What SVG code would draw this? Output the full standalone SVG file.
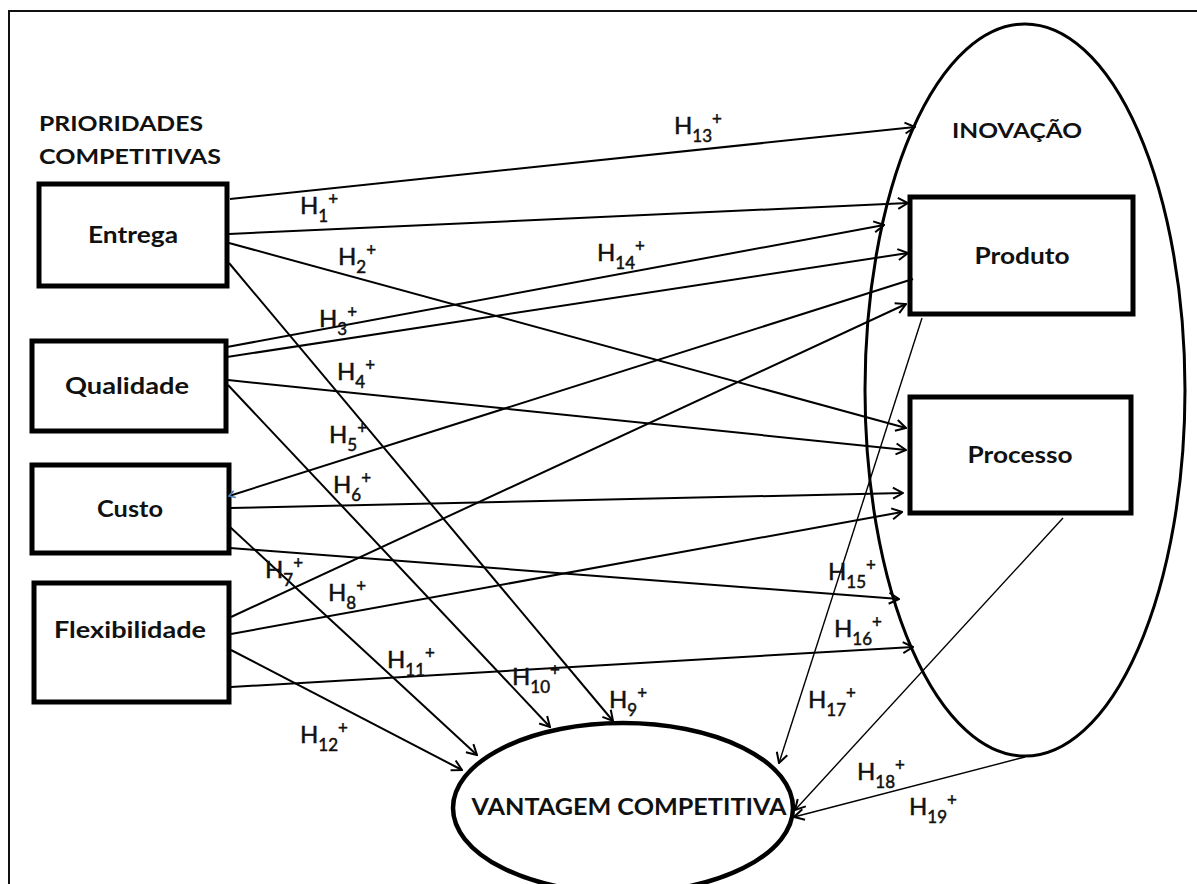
<svg xmlns="http://www.w3.org/2000/svg" width="1197" height="884" viewBox="0 0 1197 884">
  <style>
    .box { fill: #fff; stroke: #000; stroke-width: 5; }
    .oval { fill: none; stroke: #000; }
    .lbl { font-family: Lato, "Liberation Sans", sans-serif; font-weight: bold; fill: #111; }
    .edge { stroke: #000; stroke-width: 2; fill: none; marker-end: url(#arrow); }
    .thin { stroke-width: 1.4; }
    .h { font-family: Lato, "Liberation Sans", sans-serif; font-size: 24px; fill: #111; stroke: #111; stroke-width: 0.5; }
    .s { font-size: 17px; }
  </style>
  <defs>
    <marker id="arrow" markerUnits="userSpaceOnUse" viewBox="0 -7 12 14" refX="11" refY="0" markerWidth="12" markerHeight="14" orient="auto">
      <path d="M1,-5.5 L11,0 L1,5.5" fill="none" stroke="#000" stroke-width="2"/>
    </marker>
    <marker id="arrowBlue" markerUnits="userSpaceOnUse" viewBox="0 -5 8 10" refX="7" refY="0" markerWidth="8" markerHeight="10" orient="auto">
      <path d="M1,-3.5 L7,0 L1,3.5" fill="none" stroke="#4a7ebb" stroke-width="1.6"/>
    </marker>
  </defs>

  <rect width="1197" height="884" fill="#fff"/>

  <!-- outer frame, continues past the right and bottom edges -->
  <rect id="frame" x="9" y="11" width="1200" height="900" fill="none" stroke="#111" stroke-width="2"/>

  <!-- innovation container -->
  <g id="inovacao">
    <ellipse class="oval" cx="1025" cy="390" rx="160" ry="366" stroke-width="3"/>
    <text class="lbl" x="1017" y="138" font-size="20" text-anchor="middle" textLength="130" lengthAdjust="spacingAndGlyphs">INOVAÇÃO</text>
  </g>

  <g id="titulo">
    <text class="lbl" x="39" y="131" font-size="21" textLength="164" lengthAdjust="spacingAndGlyphs">PRIORIDADES</text>
    <text class="lbl" x="39" y="164" font-size="21" textLength="182" lengthAdjust="spacingAndGlyphs">COMPETITIVAS</text>
  </g>

  <g id="entrega">
    <rect class="box" x="39" y="184" width="188" height="102"/>
    <text class="lbl" x="133" y="243" font-size="22" text-anchor="middle" textLength="90" lengthAdjust="spacingAndGlyphs">Entrega</text>
  </g>
  <g id="qualidade">
    <rect class="box" x="32" y="341" width="194" height="90"/>
    <text class="lbl" x="127" y="394" font-size="22" text-anchor="middle" textLength="124" lengthAdjust="spacingAndGlyphs">Qualidade</text>
  </g>
  <g id="custo">
    <rect class="box" x="32" y="465" width="197" height="88"/>
    <text class="lbl" x="130" y="517" font-size="22" text-anchor="middle" textLength="66" lengthAdjust="spacingAndGlyphs">Custo</text>
  </g>
  <g id="flexibilidade">
    <rect class="box" x="34" y="583" width="195" height="119"/>
    <text class="lbl" x="130" y="638" font-size="22" text-anchor="middle" textLength="152" lengthAdjust="spacingAndGlyphs">Flexibilidade</text>
  </g>
  <g id="produto">
    <rect class="box" x="910" y="197" width="223" height="117"/>
    <text class="lbl" x="1022" y="264" font-size="22" text-anchor="middle" textLength="95" lengthAdjust="spacingAndGlyphs">Produto</text>
  </g>
  <g id="processo">
    <rect class="box" x="910" y="397" width="221" height="116"/>
    <text class="lbl" x="1020" y="463" font-size="22" text-anchor="middle" textLength="105" lengthAdjust="spacingAndGlyphs">Processo</text>
  </g>
  <g id="vantagem">
    <ellipse class="oval" cx="623" cy="808" rx="170" ry="85" stroke-width="4.5" fill="#fff"/>
    <text class="lbl" x="629" y="815" font-size="22" text-anchor="middle" textLength="315" lengthAdjust="spacingAndGlyphs">VANTAGEM COMPETITIVA</text>
  </g>

  <g id="connectors">
    <line class="edge" x1="230" y1="199" x2="915" y2="127"/>
    <line class="edge" x1="229" y1="234" x2="908" y2="203"/>
    <line class="edge" x1="229" y1="243" x2="906" y2="428"/>
    <line class="edge" x1="229" y1="263" x2="613" y2="721"/>
    <line class="edge" x1="227" y1="347" x2="884" y2="225"/>
    <line class="edge" x1="227" y1="357" x2="908" y2="253"/>
    <line class="edge" x1="228" y1="380" x2="906" y2="450"/>
    <line class="edge" x1="228" y1="385" x2="550" y2="727"/>
    <line x1="913" y1="279" x2="229" y2="496" stroke="#000" stroke-width="2" marker-end="url(#arrowBlue)"/>
    <line class="edge" x1="230" y1="508" x2="903" y2="493"/>
    <line class="edge" x1="230" y1="527" x2="477" y2="755"/>
    <line class="edge" x1="230" y1="548" x2="899" y2="599"/>
    <line class="edge" x1="231" y1="617" x2="906" y2="304"/>
    <line class="edge" x1="231" y1="634" x2="902" y2="512"/>
    <line class="edge" x1="231" y1="650" x2="462" y2="770"/>
    <line class="edge" x1="231" y1="687" x2="913" y2="647"/>
    <line class="edge thin" x1="922" y1="318" x2="779" y2="763"/>
    <line class="edge thin" x1="1063" y1="518" x2="795" y2="810"/>
    <line class="edge thin" x1="1025" y1="757" x2="794" y2="817"/>
  </g>

  <g id="hypotheses">
    <text class="h" x="674" y="134">H<tspan class="s" dy="8">13</tspan><tspan class="s" dy="-17">+</tspan></text>
    <text class="h" x="300" y="214">H<tspan class="s" dy="8">1</tspan><tspan class="s" dy="-17">+</tspan></text>
    <text class="h" x="338" y="265">H<tspan class="s" dy="8">2</tspan><tspan class="s" dy="-17">+</tspan></text>
    <text class="h" x="597" y="261">H<tspan class="s" dy="8">14</tspan><tspan class="s" dy="-17">+</tspan></text>
    <text class="h" x="319" y="327">H<tspan class="s" dy="8">3</tspan><tspan class="s" dy="-17">+</tspan></text>
    <text class="h" x="337" y="380">H<tspan class="s" dy="8">4</tspan><tspan class="s" dy="-17">+</tspan></text>
    <text class="h" x="329" y="443">H<tspan class="s" dy="8">5</tspan><tspan class="s" dy="-17">+</tspan></text>
    <text class="h" x="333" y="493">H<tspan class="s" dy="8">6</tspan><tspan class="s" dy="-17">+</tspan></text>
    <text class="h" x="265" y="578">H<tspan class="s" dy="8">7</tspan><tspan class="s" dy="-17">+</tspan></text>
    <text class="h" x="328" y="601">H<tspan class="s" dy="8">8</tspan><tspan class="s" dy="-17">+</tspan></text>
    <text class="h" x="609" y="708">H<tspan class="s" dy="8">9</tspan><tspan class="s" dy="-17">+</tspan></text>
    <text class="h" x="512" y="685">H<tspan class="s" dy="8">10</tspan><tspan class="s" dy="-17">+</tspan></text>
    <text class="h" x="387" y="668">H<tspan class="s" dy="8">11</tspan><tspan class="s" dy="-17">+</tspan></text>
    <text class="h" x="300" y="743">H<tspan class="s" dy="8">12</tspan><tspan class="s" dy="-17">+</tspan></text>
    <text class="h" x="828" y="580">H<tspan class="s" dy="8">15</tspan><tspan class="s" dy="-17">+</tspan></text>
    <text class="h" x="834" y="637">H<tspan class="s" dy="8">16</tspan><tspan class="s" dy="-17">+</tspan></text>
    <text class="h" x="808" y="708">H<tspan class="s" dy="8">17</tspan><tspan class="s" dy="-17">+</tspan></text>
    <text class="h" x="857" y="780">H<tspan class="s" dy="8">18</tspan><tspan class="s" dy="-17">+</tspan></text>
    <text class="h" x="909" y="815">H<tspan class="s" dy="8">19</tspan><tspan class="s" dy="-17">+</tspan></text>
  </g>
</svg>
